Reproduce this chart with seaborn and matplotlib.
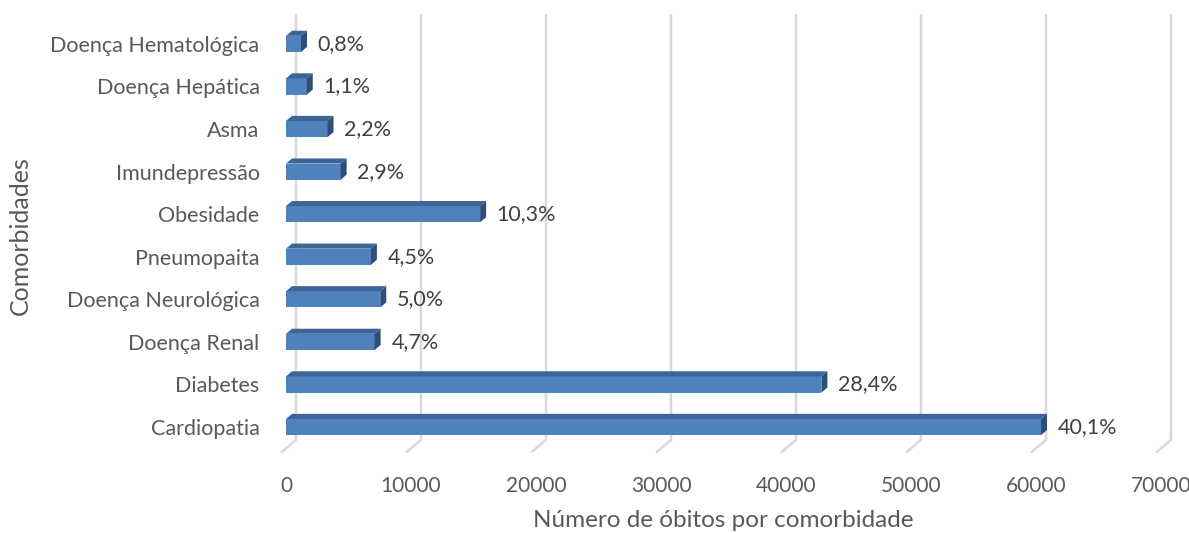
import numpy as np
import pandas as pd
import matplotlib
matplotlib.use('Agg')
import matplotlib.pyplot as plt
from matplotlib.patches import Polygon
import seaborn as sns

# dados
comorbidades = ['Doença Hematológica', 'Doença Hepática', 'Asma', 'Imundepressão', 'Obesidade',
                'Pneumopaita', 'Doença Neurológica', 'Doença Renal', 'Diabetes', 'Cardiopatia']
obitos = [1200, 1660, 3320, 4370, 15530, 6790, 7540, 7090, 42830, 60400]
percentuais = ['0,8%', '1,1%', '2,2%', '2,9%', '10,3%', '4,5%', '5,0%', '4,7%', '28,4%', '40,1%']
xticks = [0, 10000, 20000, 30000, 40000, 50000, 60000, 70000]

df = pd.DataFrame({'comorbidade': comorbidades, 'obitos': obitos})

sns.set_style('white')
plt.rcParams['font.family'] = ['Lato', 'DejaVu Sans']
cinza = '#595959'

fig = plt.figure(figsize=(11.89, 5.33), dpi=100)
ax = fig.add_axes([286 / 1189, 1 - 459 / 533, (1161 - 286) / 1189, (459 - 12) / 533])

azul = '#4F81BD'
sns.barplot(data=df, y='comorbidade', x='obitos', orient='h', color=azul, width=0.38,
            saturation=1, ax=ax, zorder=3)

ax.set_xlim(0, 70000)
ax.set_ylim(9.75, -0.75)

# profundidade 3D (em unidades de dados)
dx = 480
dy = 0.12
for p in ax.patches[:len(obitos)]:
    x0 = p.get_x()
    x1 = x0 + p.get_width()
    ytop = p.get_y()
    ybot = ytop + p.get_height()
    p.set_edgecolor('none')
    topo = Polygon([(x0, ytop), (x1, ytop), (x1 + dx, ytop - dy), (x0 + dx, ytop - dy)],
                   closed=True, facecolor='#3C6597', edgecolor='none', zorder=3)
    lado = Polygon([(x1, ytop), (x1 + dx, ytop - dy), (x1 + dx, ybot - dy), (x1, ybot)],
                   closed=True, facecolor='#2E4E78', edgecolor='none', zorder=3)
    ax.add_patch(topo)
    ax.add_patch(lado)

# grade com piso em perspectiva
gdx = 800
for t in xticks:
    ax.plot([t + gdx, t + gdx, t - 400], [-0.7, 9.3, 9.6], color='#D9D9D9', lw=1.8,
            zorder=1, clip_on=False, solid_capstyle='butt')

for i, (v, lab) in enumerate(zip(obitos, percentuais)):
    ax.annotate(lab, (v, i), xytext=(12, 0), textcoords='offset points',
                va='center', ha='left', fontsize=15.5, color='#404040')

for s in ax.spines.values():
    s.set_visible(False)
ax.set_xticks(xticks)
ax.set_xticklabels([str(t) for t in xticks])
ax.tick_params(axis='x', length=0, pad=12, labelsize=15, labelcolor=cinza)
ax.tick_params(axis='y', length=0, pad=19, labelsize=15.5, labelcolor=cinza)
ax.set_xlabel('Número de óbitos por comorbidade', fontsize=17.5, color=cinza, labelpad=10)
ax.set_ylabel('Comorbidades', fontsize=18, color=cinza)
ax.yaxis.set_label_coords(-0.29, 0.5)
ax.grid(False)

fig.savefig('out.png', dpi=100)
